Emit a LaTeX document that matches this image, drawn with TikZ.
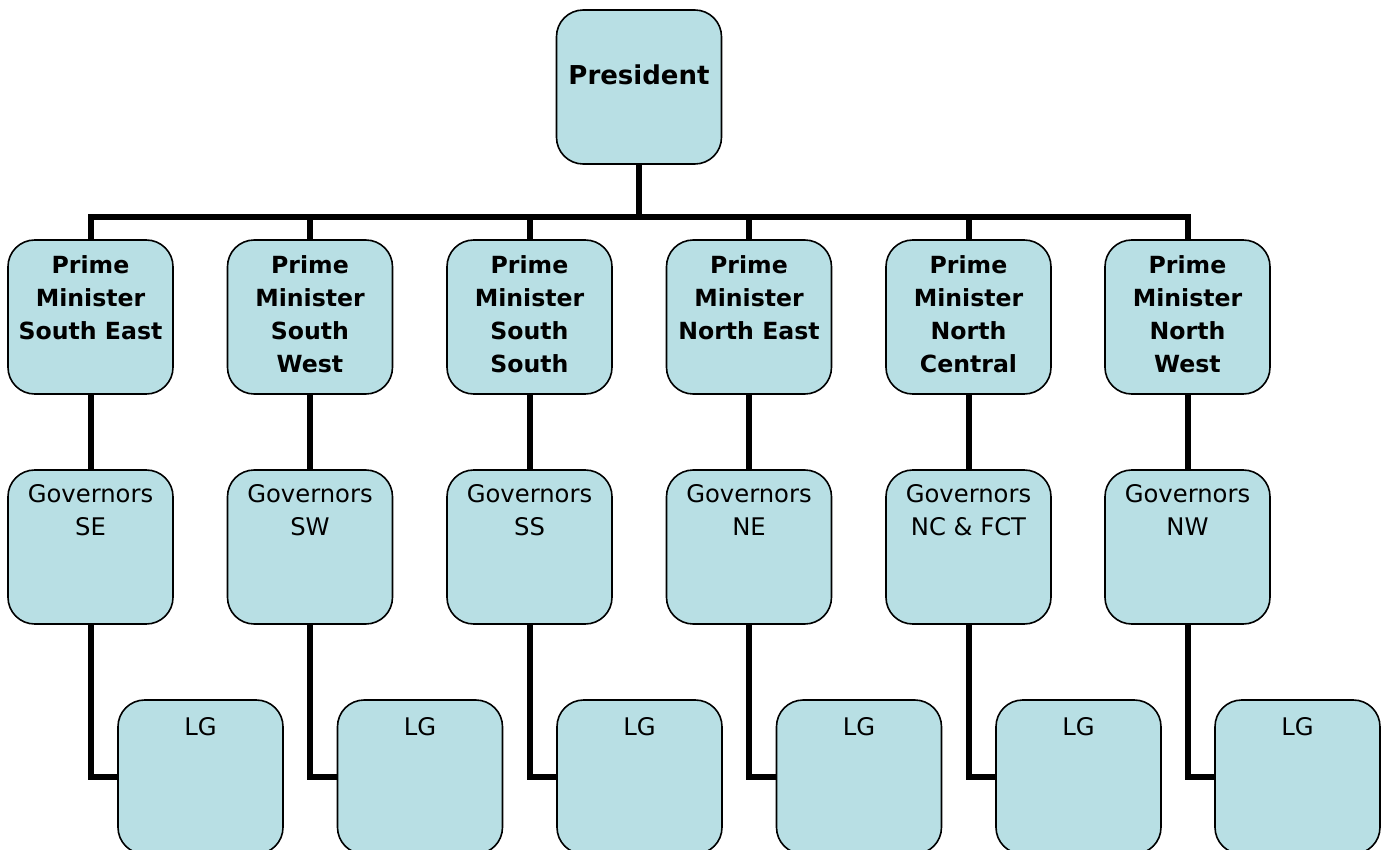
\documentclass[tikz,border=0pt]{standalone}
\usepackage{fontspec}
\setmainfont{DejaVu Sans}
\definecolor{boxfill}{HTML}{B8DFE4}
\begin{document}
\begin{tikzpicture}[x=0.75pt,y=-0.75pt,
  box/.style={draw=black,line width=1.2pt,fill=boxfill,rounded corners=20pt,
    minimum width=123.75pt,minimum height=115.5pt,inner sep=0pt},
  conn/.style={line width=4.5pt,draw=black},
  prestext/.style={font=\bfseries\fontsize{19.5}{24}\selectfont,anchor=north,inner sep=0pt},
  pmtext/.style={font=\bfseries\fontsize{17.7}{24.75}\selectfont,align=center,anchor=north,inner sep=0pt},
  govtext/.style={font=\fontsize{18.2}{24.75}\selectfont,align=center,anchor=north,inner sep=0pt},
]
\useasboundingbox (0,0) rectangle (1386,850);
% President
\node[box] (pres) at (639,87) {};
\node[prestext] (prest) at (639,64) {President};
\coordinate (bus) at (639,217);
\draw[conn] (pres.south) -- (bus);
\foreach \i/\cx/\pm/\gov in {
  1/90.5/{Prime\\Minister\\South East}/{Governors\\SE},
  2/310/{Prime\\Minister\\South\\West}/{Governors\\SW},
  3/529.5/{Prime\\Minister\\South\\South}/{Governors\\SS},
  4/749/{Prime\\Minister\\North East}/{Governors\\NE},
  5/968.5/{Prime\\Minister\\North\\Central}/{Governors\\NC \& FCT},
  6/1187.5/{Prime\\Minister\\North\\West}/{Governors\\NW}} {
  \node[box] (pm\i) at (\cx,317) {};
  \node[pmtext] (pmt\i) at (\cx,255) {\pm};
  \node[box] (gov\i) at (\cx,547) {};
  \node[govtext] (govt\i) at (\cx,484) {\gov};
  \node[box] (lg\i) at (\cx+110,777) {};
  \node[govtext] (lgt\i) at (\cx+110,717) {LG};
  \draw[conn] (bus) -| (pm\i.north);
  \draw[conn] (pm\i.south) -- (gov\i.north);
  \draw[conn] (gov\i.south) |- (lg\i.west);
}
\end{tikzpicture}
\end{document}
